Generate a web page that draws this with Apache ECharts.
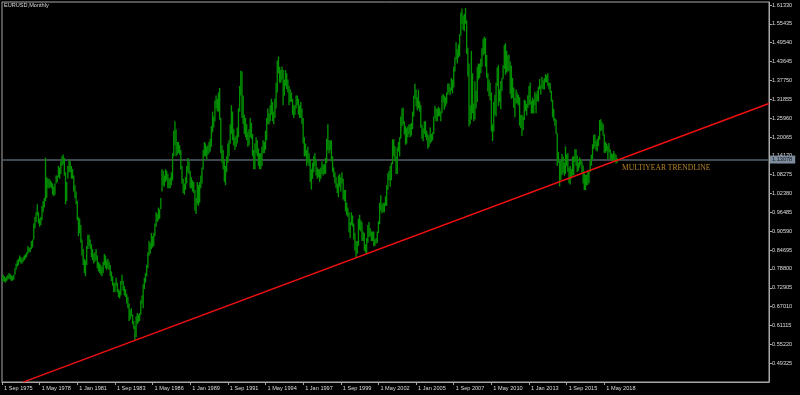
<!DOCTYPE html>
<html><head><meta charset="utf-8">
<script src="https://cdn.jsdelivr.net/npm/echarts@6/dist/echarts.min.js"></script>
<style>html,body{margin:0;padding:0;background:#000;}#c{width:800px;height:395px;}</style>
</head><body><div id="c"></div>
<script>
// ---------- data ----------
const chartTitle = 'EURUSD,Monthly';
const startYear = 1975, startMonth = 8;      // first bar: Sep 1975
const totalSlots = 653;                      // bars + empty right shift
const monthNames = ['Jan','Feb','Mar','Apr','May','Jun','Jul','Aug','Sep','Oct','Nov','Dec'];
const xLabelEvery = 32;                      // months between time labels

// monthly lows, Sep 1975 .. Apr 2019
const lows = [
 .745,.750,.748,.745,
 .750,.755,.757,.755,.750,.752,.755,.770,.785,.795,.800,.810,
 .805,.805,.810,.815,.820,.825,.835,.840,.840,.850,.855,.880,
 .915,.935,.955,.930,.920,.925,.940,.965,.980,1.000,1.010,1.040,
 1.040,1.045,1.040,1.020,1.015,1.020,1.055,1.060,1.075,1.070,1.085,1.110,
 1.115,1.080,.990,1.000,1.070,1.090,1.090,1.070,1.070,1.030,1.010,.990,
 .940,.890,.900,.870,.830,.800,.775,.765,.800,.850,.860,.850,
 .825,.815,.805,.810,.815,.790,.780,.775,.770,.765,.775,.800,
 .790,.785,.790,.785,.765,.750,.735,.715,.715,.735,.715,.700,
 .695,.705,.740,.720,.705,.700,.680,.665,.625,.630,.640,.615,
 .600,.565,.575,.615,.620,.625,.645,.680,.665,.725,.745,.765,
 .790,.830,.835,.850,.855,.860,.890,.920,.935,.940,.945,.975,
 1.030,1.050,1.045,1.060,1.065,1.040,1.040,1.040,1.050,1.065,1.140,1.175,
 1.140,1.145,1.150,1.145,1.100,1.055,1.025,1.020,1.035,1.055,1.090,1.085,
 1.040,1.040,1.030,1.025,.970,.960,.990,.985,.995,1.040,1.055,1.100,
 1.140,1.140,1.130,1.145,1.150,1.155,1.170,1.215,1.230,1.250,1.290,1.280,
 1.280,1.255,1.150,1.120,1.100,1.060,1.050,1.090,1.120,1.140,1.180,1.210,
 1.190,1.175,1.160,1.170,1.180,1.200,1.280,1.330,1.260,1.240,1.210,1.200,
 1.190,1.170,1.175,1.200,1.195,1.140,1.100,1.100,1.150,1.140,1.110,1.100,
 1.100,1.110,1.150,1.150,1.160,1.190,1.240,1.240,1.250,1.270,1.250,1.240,
 1.260,1.290,1.340,1.400,1.370,1.370,1.380,1.300,1.330,1.360,1.350,1.340,
 1.300,1.310,1.310,1.270,1.260,1.270,1.290,1.300,1.270,1.260,1.260,1.240,
 1.180,1.140,1.140,1.110,1.120,1.110,1.060,1.036,1.070,1.090,1.110,1.080,
 1.070,1.075,1.060,1.070,1.085,1.080,1.085,1.085,1.120,1.160,1.150,1.160,
 1.125,1.090,1.075,1.055,1.040,1.025,1.012,1.045,1.030,1.055,1.005,1.000,
 .968,.956,.951,.902,.885,.925,.920,.880,.845,.823,.835,.860,
 .910,.905,.875,.875,.845,.839,.836,.870,.888,.890,.875,.875,
 .859,.860,.867,.870,.900,.928,.970,.962,.965,.965,.985,.985,
 1.035,1.065,1.045,1.065,1.115,1.140,1.125,1.085,1.085,1.155,1.140,1.195,
 1.235,1.240,1.208,1.176,1.180,1.200,1.210,1.200,1.205,1.225,1.265,1.320,
 1.297,1.283,1.290,1.280,1.230,1.195,1.187,1.210,1.200,1.190,1.164,1.169,
 1.180,1.185,1.190,1.210,1.260,1.250,1.250,1.265,1.265,1.250,1.275,1.310,
 1.286,1.295,1.305,1.333,1.340,1.332,1.345,1.337,1.355,1.405,1.442,1.430,
 1.448,1.453,1.518,1.555,1.535,1.532,1.555,1.460,1.390,1.233,1.240,1.255,
 1.275,1.250,1.255,1.290,1.310,1.380,1.385,1.400,1.420,1.455,1.460,1.420,
 1.385,1.343,1.328,1.315,1.218,1.188,1.218,1.270,1.265,1.360,1.297,1.310,
 1.287,1.345,1.383,1.414,1.395,1.402,1.405,1.406,1.335,1.320,1.323,1.292,
 1.262,1.305,1.305,1.300,1.236,1.229,1.204,1.222,1.254,1.282,1.268,1.291,
 1.300,1.303,1.274,1.275,1.274,1.300,1.275,1.312,1.311,1.349,1.333,1.353,
 1.350,1.349,1.371,1.371,1.360,1.350,1.339,1.311,1.262,1.251,1.236,1.210,
 1.110,1.120,1.046,1.066,1.082,1.089,1.079,1.085,1.109,1.092,1.056,1.052,
 1.071,1.080,1.081,1.123,1.110,1.091,1.095,1.105,1.114,1.086,1.055,1.035,
 1.034,1.049,1.051,1.057,1.091,1.111,1.131,1.163,1.170,1.158,1.155,1.172,
 1.192,1.219,1.221,1.205,1.151,1.151,1.157,1.130,1.153,1.132,1.127,1.126,
 1.129,1.123,1.118,1.121
];
// monthly highs, Sep 1975 .. Apr 2019
const highs = [
 .765,.770,.765,.760,
 .765,.770,.775,.772,.768,.765,.770,.790,.805,.815,.820,.830,
 .825,.820,.825,.830,.835,.840,.860,.855,.855,.875,.880,.930,
 .950,.965,.990,.965,.945,.950,.985,1.000,1.010,1.136,1.075,1.070,
 1.070,1.065,1.060,1.055,1.045,1.055,1.080,1.080,1.110,1.105,1.125,1.140,
 1.146,1.135,1.090,1.060,1.110,1.130,1.125,1.110,1.100,1.080,1.050,1.030,
 1.000,.950,.945,.925,.880,.850,.820,.815,.860,.895,.895,.880,
 .865,.850,.835,.840,.850,.830,.810,.805,.800,.795,.810,.835,
 .830,.815,.820,.810,.800,.780,.765,.745,.745,.760,.745,.725,
 .720,.750,.770,.750,.735,.725,.710,.700,.680,.660,.665,.645,
 .625,.610,.640,.650,.645,.650,.690,.705,.740,.760,.775,.800,
 .840,.875,.870,.900,.890,.900,.930,.965,.960,.980,.975,1.010,
 1.100,1.095,1.080,1.100,1.095,1.085,1.070,1.075,1.090,1.150,1.220,1.250,
 1.225,1.185,1.185,1.175,1.160,1.110,1.070,1.055,1.075,1.110,1.135,1.125,
 1.095,1.075,1.065,1.060,1.035,1.010,1.060,1.050,1.060,1.080,1.105,1.160,
 1.185,1.180,1.170,1.175,1.185,1.195,1.235,1.280,1.265,1.315,1.330,1.320,
 1.340,1.354,1.260,1.175,1.160,1.125,1.110,1.140,1.180,1.190,1.240,1.300,
 1.280,1.225,1.200,1.205,1.230,1.290,1.360,1.408,1.405,1.330,1.270,1.260,
 1.240,1.215,1.225,1.260,1.245,1.210,1.160,1.180,1.200,1.190,1.165,1.150,
 1.150,1.170,1.190,1.185,1.220,1.260,1.290,1.275,1.300,1.320,1.310,1.280,
 1.320,1.370,1.440,1.452,1.420,1.410,1.420,1.410,1.380,1.410,1.400,1.380,
 1.360,1.350,1.340,1.320,1.300,1.300,1.330,1.330,1.320,1.300,1.310,1.290,
 1.260,1.200,1.180,1.160,1.170,1.150,1.130,1.100,1.120,1.140,1.150,1.130,
 1.105,1.100,1.100,1.105,1.125,1.115,1.115,1.135,1.195,1.240,1.190,1.190,
 1.190,1.140,1.105,1.090,1.075,1.055,1.080,1.085,1.075,1.090,1.070,1.035,
 1.035,.995,.980,.965,.935,.965,.955,.930,.900,.875,.875,.945,
 .957,.940,.935,.905,.900,.865,.885,.925,.935,.915,.905,.905,
 .905,.880,.885,.905,.937,.995,1.018,.990,.995,.995,1.015,1.050,
 1.087,1.094,1.110,1.120,1.193,1.193,1.172,1.140,1.168,1.185,1.200,1.265,
 1.290,1.293,1.250,1.235,1.228,1.233,1.240,1.240,1.245,1.280,1.330,1.367,
 1.350,1.325,1.348,1.312,1.300,1.239,1.227,1.250,1.250,1.220,1.210,1.205,
 1.230,1.210,1.215,1.265,1.298,1.290,1.290,1.295,1.290,1.280,1.330,1.336,
 1.330,1.325,1.340,1.368,1.368,1.355,1.385,1.380,1.420,1.450,1.497,1.475,
 1.490,1.522,1.590,1.602,1.580,1.585,1.604,1.565,1.480,1.430,1.300,1.470,
 1.400,1.305,1.375,1.345,1.420,1.430,1.430,1.445,1.478,1.508,1.514,1.510,
 1.457,1.400,1.380,1.370,1.340,1.240,1.310,1.333,1.370,1.418,1.425,1.350,
 1.375,1.385,1.425,1.488,1.494,1.470,1.455,1.458,1.437,1.424,1.385,1.355,
 1.323,1.349,1.339,1.332,1.325,1.269,1.270,1.264,1.317,1.314,1.304,1.331,
 1.360,1.371,1.313,1.324,1.318,1.342,1.335,1.345,1.358,1.382,1.362,1.389,
 1.377,1.384,1.397,1.393,1.400,1.371,1.369,1.345,1.317,1.289,1.260,1.255,
 1.212,1.154,1.125,1.127,1.147,1.139,1.121,1.171,1.146,1.150,1.105,1.110,
 1.100,1.139,1.140,1.162,1.162,1.143,1.121,1.137,1.132,1.125,1.111,1.087,
 1.082,1.083,1.091,1.097,1.127,1.145,1.178,1.207,1.209,1.188,1.194,1.203,
 1.254,1.256,1.247,1.241,1.209,1.185,1.180,1.173,1.182,1.162,1.150,1.147,
 1.157,1.149,1.145,1.134
];

const yAxisMin = 0.43430, yAxisMax = 1.62270, yAxisStep = 0.05895;
const currentPrice = 1.13078;
// trendline anchors: [month index, price] (Feb 1985 low, Oct 2000 low)
const trendAnchors = [[113, 0.5645], [301, 0.8228]];
const trendLabel = { text: 'MULTIYEAR TRENDLINE', month: 527, price: 1.1033 };

// ---------- build ----------
const months = [];
for (let k = 0; k < totalSlots; k++) {
  const m = (startMonth + k) % 12, y = startYear + Math.floor((startMonth + k) / 12);
  months.push('1 ' + monthNames[m] + ' ' + y);
}
const bars = lows.map((lo, i) => [i, lo, highs[i]]);
const lastBar = lows.length - 1;

const slope = (trendAnchors[1][1] - trendAnchors[0][1]) / (trendAnchors[1][0] - trendAnchors[0][0]);
const tStartIdx = 18;
const tEndIdx = totalSlots - 1;
const trendData = [
  [tStartIdx, trendAnchors[0][1] + (tStartIdx - trendAnchors[0][0]) * slope],
  [tEndIdx, trendAnchors[0][1] + (tEndIdx - trendAnchors[0][0]) * slope]
];

const axisColor = '#a8a8a8';
const txtColor = '#dcdcdc';
const font = 'Liberation Sans';
const showTime = (idx) => idx % xLabelEvery === 0 && idx <= lastBar;

const chart = echarts.init(document.getElementById('c'), null, { renderer: 'canvas' });
chart.setOption({
  animation: false,
  backgroundColor: '#000000',
  title: { text: chartTitle, left: 4, top: 2, padding: 0,
    textStyle: { color: txtColor, fontSize: 5.6, fontWeight: 'normal', fontFamily: font } },
  grid: { left: 2, right: 31, top: 2, bottom: 13, show: true, borderColor: axisColor, borderWidth: 1, backgroundColor: 'transparent' },
  xAxis: {
    type: 'category', data: months, boundaryGap: false,
    axisLine: { show: true, lineStyle: { color: axisColor, width: 1 } },
    axisTick: { show: true, interval: showTime, length: 3, lineStyle: { color: axisColor } },
    axisLabel: { interval: showTime, align: 'left', margin: 3, padding: [0, 0, 0, 2],
      color: txtColor, fontSize: 5.6, fontFamily: font },
    splitLine: { show: false }
  },
  yAxis: {
    type: 'value', position: 'right', min: yAxisMin, max: yAxisMax, interval: yAxisStep, scale: true,
    axisLine: { show: true, lineStyle: { color: axisColor, width: 1 } },
    axisTick: { show: true, length: 3, lineStyle: { color: axisColor } },
    axisLabel: { showMinLabel: false, showMaxLabel: false, margin: 3, color: txtColor, fontSize: 5.6, fontFamily: font,
      formatter: v => v.toFixed(5) },
    splitLine: { show: false }
  },
  series: [
    {
      type: 'custom', data: bars, clip: true, z: 3,
      encode: { x: 0, y: [1, 2] },
      renderItem: (params, api) => {
        const i = api.value(0);
        const lo = api.coord([i, api.value(1)]);
        const hi = api.coord([i, api.value(2)]);
        const w = Math.max(1.3, api.size([1, 0])[0] * 1.15);
        return { type: 'rect',
          shape: { x: lo[0] - w / 2, y: hi[1], width: w, height: Math.max(1, lo[1] - hi[1]) },
          style: { fill: '#009000' } };
      },
      markLine: {
        silent: true, symbol: 'none', z: 2,
        lineStyle: { color: '#56606a', width: 1.5, type: 'solid' },
        label: { show: true, position: 'end', distance: 1, formatter: currentPrice.toFixed(5),
          backgroundColor: '#7d8d9d', color: '#101820', fontSize: 5.6, fontFamily: font, padding: [1, 3, 1, 2] },
        data: [{ yAxis: currentPrice }]
      }
    },
    {
      type: 'line', data: trendData, clip: true, symbol: 'none', z: 4,
      lineStyle: { color: '#f01010', width: 1.5 }
    },
    {
      type: 'scatter', data: [[trendLabel.month, trendLabel.price]], symbolSize: 0, z: 5,
      label: { show: true, position: 'right', distance: 0, formatter: trendLabel.text,
        color: '#e0a030', fontSize: 7.6, fontFamily: 'Liberation Serif' }
    }
  ]
});
</script></body></html>
